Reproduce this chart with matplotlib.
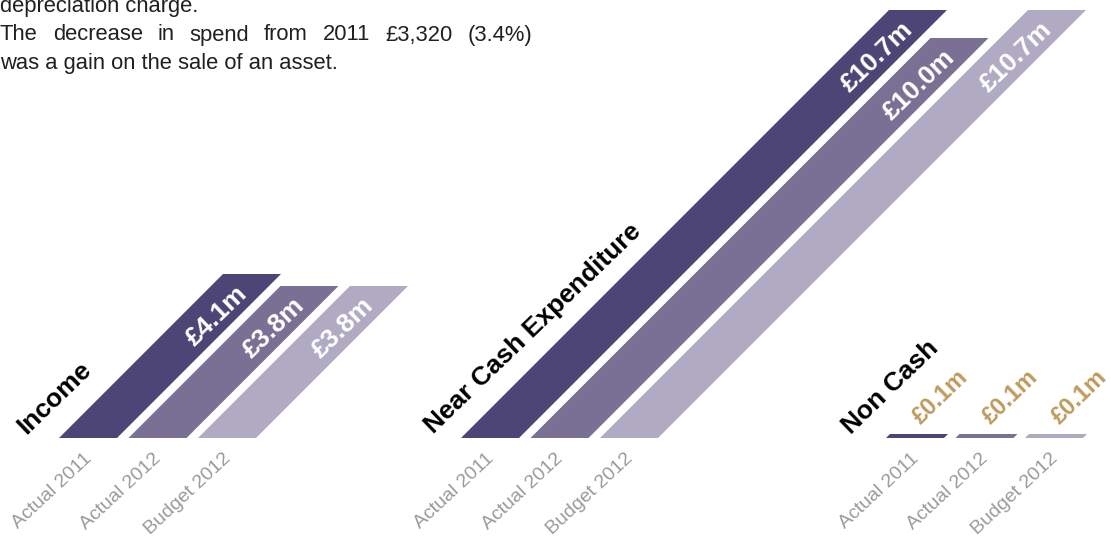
import matplotlib
matplotlib.use("Agg")
import matplotlib.pyplot as plt
from matplotlib.patches import Polygon

# ---- data (£ millions) ----
groups = ["Income", "Near Cash Expenditure", "Non Cash"]
periods = ["Actual 2011", "Actual 2012", "Budget 2012"]
income = [4.1, 3.8, 3.8]
near_cash = [10.7, 10.0, 10.7]
non_cash = [0.1, 0.1, 0.1]
series = [income, near_cash, non_cash]

intro_lines = [
    "depreciation charge.",
    "The decrease in spend from 2011 £3,320 (3.4%)",
    "was a gain on the sale of an asset.",
]

# ---- style / layout ----
bar_colors = ["#4d4575", "#7a7093", "#b0abc3"]
small_label_color = "#bf9a5c"
period_color = "#9a9a9a"
text_color = "#231f20"
FONT = "Liberation Sans"

W, H, DPI = 1111, 540, 100
PX = 40.0                      # pixels per £m (same in x and y so the slant is 45°)
base_px = 438                  # baseline, pixels from top
group_left = [59, 461, 886]    # left edge of first bar in each group (px)
title_gap = [33, 27, 35]       # title distance left of the first bar (px)
bar_w = 58 / PX
bar_step = 69.5 / PX

fig = plt.figure(figsize=(W / DPI, H / DPI), dpi=DPI)
ax = fig.add_axes([0, 0, 1, 1])
ax.set_xlim(0, W / PX)
ax.set_ylim(-(H - base_px) / PX, base_px / PX)
ax.axis("off")

for g, (name, vals, gx) in enumerate(zip(groups, series, group_left)):
    x_start = gx / PX
    # group title, running parallel to the bars
    ax.text(x_start - title_gap[g] / PX, 0.08, name, rotation=44, rotation_mode="anchor",
            ha="left", va="baseline", fontsize=19, fontweight="bold",
            color="black", family=FONT)
    for i, (period, v) in enumerate(zip(periods, vals)):
        x0 = x_start + i * bar_step
        poly = Polygon([(x0, 0), (x0 + bar_w, 0), (x0 + bar_w + v, v), (x0 + v, v)],
                       closed=True, facecolor=bar_colors[i], edgecolor="none")
        ax.add_patch(poly)
        label = f"£{v:.1f}m"
        cx = x0 + bar_w / 2
        if v > 1.0:
            # value written inside the bar, near its top end
            yy = v - 0.4
            ax.text(cx + yy + 0.18, yy, label, rotation=44, rotation_mode="anchor",
                    ha="right", va="center", fontsize=19, fontweight="bold",
                    color="white", family=FONT)
        else:
            # value written above a bar that is too thin to hold it
            ax.text(cx + v + 0.05, v + 0.22, label, rotation=44, rotation_mode="anchor",
                    ha="left", va="baseline", fontsize=17, fontweight="bold",
                    color=small_label_color, family=FONT)
        # period label under the bar
        ax.text(cx - 0.12, -0.3, period, rotation=43, rotation_mode="anchor",
                ha="right", va="top", fontsize=14, color=period_color, family=FONT)

# ---- intro paragraph (top-left, justified) ----
renderer = fig.canvas.get_renderer()
line_h = 28.5
first_baseline = 12
just_width = 532
intro_size = 15.8


def fx(px):
    return px / W


def fy(py):
    return 1 - py / H


for k, line in enumerate(intro_lines):
    yb = first_baseline + k * line_h
    if k == 1:
        words = line.split(" ")
        objs = [fig.text(0, fy(yb), w_, fontsize=intro_size, color=text_color,
                         family=FONT, va="baseline", ha="left") for w_ in words]
        widths = [o.get_window_extent(renderer).width for o in objs]
        gap = (just_width - sum(widths)) / (len(words) - 1)
        x = 0.0
        for o, wd in zip(objs, widths):
            o.set_x(fx(x))
            x += wd + gap
    else:
        fig.text(0, fy(yb), line, fontsize=intro_size, color=text_color,
                 family=FONT, va="baseline", ha="left")

fig.savefig("out.png", dpi=DPI)
